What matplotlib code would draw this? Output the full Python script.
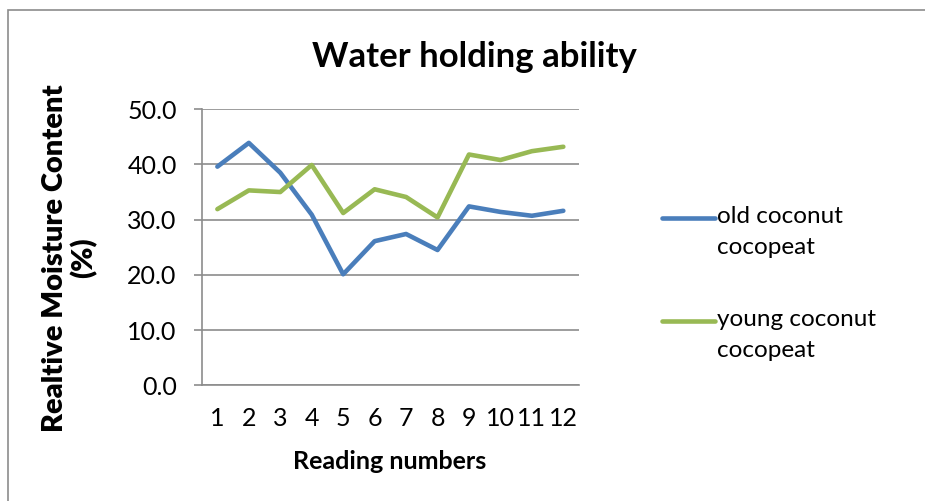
import matplotlib.pyplot as plt
from matplotlib.patches import Rectangle
from matplotlib.lines import Line2D
import numpy as np

# data
readings = list(range(1, 13))
old_coconut = [39.6, 43.9, 38.5, 30.9, 20.1, 26.1, 27.4, 24.5, 32.4, 31.4, 30.7, 31.6]
young_coconut = [31.9, 35.3, 35.0, 39.9, 31.2, 35.5, 34.1, 30.4, 41.8, 40.8, 42.4, 43.2]
yticks = [0, 10, 20, 30, 40, 50]
series_names = ['old coconut\ncocopeat', 'young coconut\ncocopeat']
colors = ['#4a7ebb', '#98b954']

plt.rcParams['font.family'] = ['Lato', 'DejaVu Sans']

fig = plt.figure(figsize=(9.25, 5.01), dpi=100)
ax = fig.add_axes([0.218, 0.231, 0.408, 0.551])

# chart-area border like the Excel frame
fig.patches.append(Rectangle((8 / 925, -0.1), 1.2, 1 - 10 / 501 + 0.1,
                             transform=fig.transFigure, fill=False,
                             edgecolor='#8c8c8c', linewidth=1.2))

for vals, c in zip([old_coconut, young_coconut], colors):
    ax.plot(readings, vals, color=c, linewidth=3.3,
            solid_joinstyle='round', solid_capstyle='round')

ax.set_xlim(0.5, 12.5)
ax.set_ylim(0, 50)
ax.set_xticks(readings)
ax.set_yticks(yticks)
ax.set_yticklabels([f'{v:.1f}' for v in yticks])
ax.tick_params(axis='x', length=0, pad=16, labelsize=18)
ax.tick_params(axis='y', length=6, width=1.2, color='#8c8c8c', pad=12, labelsize=18)
ax.grid(axis='y', color='#8c8c8c', linewidth=1.2)
ax.set_axisbelow(True)
for s in ['top', 'right']:
    ax.spines[s].set_visible(False)
for s in ['left', 'bottom']:
    ax.spines[s].set_color('#8c8c8c')
    ax.spines[s].set_linewidth(1.2)

fig.text(0.513, 0.886, 'Water holding ability', fontsize=25, fontweight='bold',
         ha='center', va='center')
fig.text(0.421, 0.078, 'Reading numbers', fontsize=18, fontweight='bold',
         ha='center', va='center')
fig.text(0.075, 0.485, 'Realtive Moisture Content\n(%)', fontsize=21,
         fontweight='heavy', rotation=90, ha='center', va='center',
         multialignment='center', linespacing=1.1)

# legend: handle aligned with the first line of each label, as in Excel
for i, (name, c) in enumerate(zip(series_names, colors)):
    y = 1 - (218 + i * 103) / 501
    fig.add_artist(Line2D([662 / 925, 715 / 925], [y, y], color=c,
                          linewidth=3.3, solid_capstyle='round'))
    fig.text(717 / 925, y + 0.024, name, fontsize=17.5, ha='left', va='top',
             linespacing=1.6, transform=fig.transFigure)

fig.savefig('out.png', dpi=100)
